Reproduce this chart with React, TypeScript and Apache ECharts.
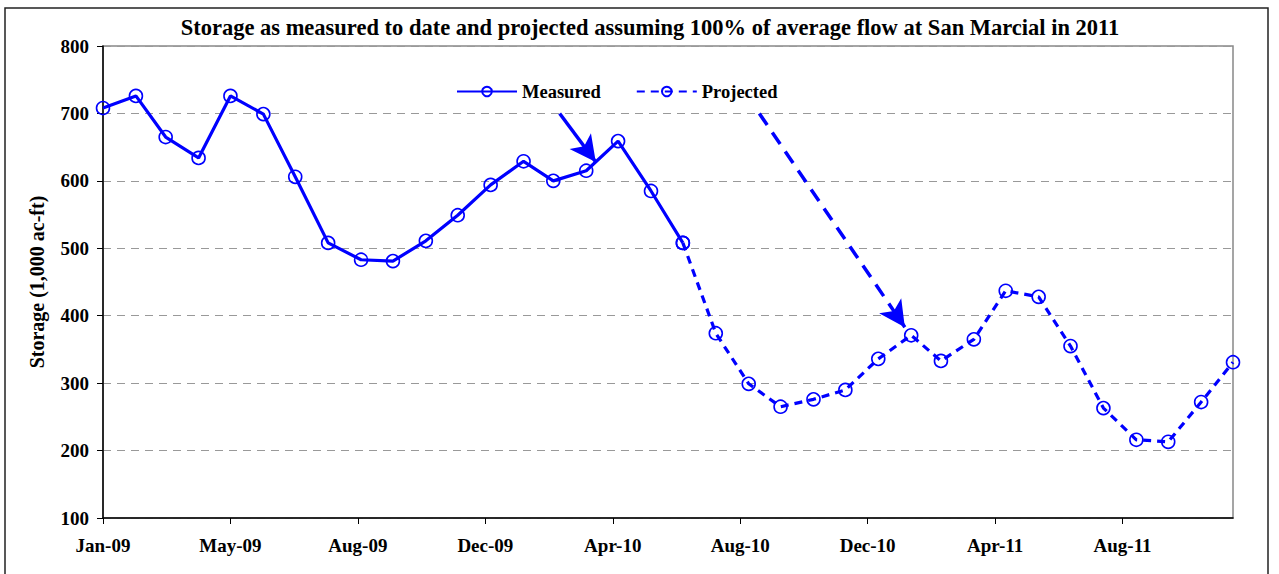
import React, { useEffect, useRef } from "react";
import * as echarts from "echarts";

const measuredMonths = [
  "2009-01", "2009-02", "2009-03", "2009-04", "2009-05", "2009-06", "2009-07", "2009-08", "2009-09", "2009-10",
  "2009-11", "2009-12", "2010-01", "2010-02", "2010-03", "2010-04", "2010-05", "2010-06", "2010-07",
];
const measuredValues = [708, 726, 665, 634, 726, 699, 606, 508, 483, 481, 511, 549, 594, 629, 600, 615, 659, 585, 508];

const projectedMonths = [
  "2010-07", "2010-08", "2010-09", "2010-10", "2010-11", "2010-12", "2011-01", "2011-02", "2011-03", "2011-04",
  "2011-05", "2011-06", "2011-07", "2011-08", "2011-09", "2011-10", "2011-11", "2011-12",
];
const projectedValues = [508, 374, 299, 265, 276, 290, 336, 371, 333, 365, 437, 428, 355, 263, 216, 213, 272, 331];

// x-axis tick dates (every 120 days from 1 Jan 2009)
const tickDays = [0, 120, 240, 360, 480, 600, 720, 840, 960];
const yTicks = [100, 200, 300, 400, 500, 600, 700, 800];

// annotation arrows: [startDate, startValue, endDate, endValue]
const measuredArrow = ["2010-03-07", 700, "2010-04-10", 628];
const projectedArrow = ["2010-09-11", 700, "2011-01-26", 383];

const BASE = Date.UTC(2009, 0, 1);
const DAY = 86400000;
const toDay = (s: string) => {
  const p = s.split("-").map(Number);
  return Math.round((Date.UTC(p[0], p[1] - 1, p[2] || 1) - BASE) / DAY);
};
const MONTHS = ["Jan", "Feb", "Mar", "Apr", "May", "Jun", "Jul", "Aug", "Sep", "Oct", "Nov", "Dec"];
const fmtDay = (d: number) => {
  const dt = new Date(BASE + d * DAY);
  return MONTHS[dt.getUTCMonth()] + "-" + String(dt.getUTCFullYear() % 100).padStart(2, "0");
};

const BLUE = "#0000ff";
const FONT = "'Liberation Serif', 'Times New Roman', serif";

export default function App() {
  const ref = useRef<HTMLDivElement>(null);
  useEffect(() => {
    if (!ref.current) return;
    document.body.style.margin = "0";
    const chart = echarts.init(ref.current, undefined, { renderer: "svg" });
    const mData = measuredMonths.map((m, i) => [toDay(m), measuredValues[i]]);
    const pData = projectedMonths.map((m, i) => [toDay(m), projectedValues[i]]);
    const arrow = (a: any[]) => [
      { coord: [toDay(a[0]), a[1]] },
      { coord: [toDay(a[2]), a[3]] },
    ];
    chart.setOption({
      animation: false,
      textStyle: { fontFamily: FONT },
      title: {
        text: "Storage as measured to date and projected assuming 100% of average flow at San Marcial in 2011",
        left: 645,
        textAlign: "center",
        top: 11,
        textStyle: { fontFamily: FONT, fontWeight: "bold", fontSize: 22.5, color: "#000" },
      },
      legend: {
        left: 451,
        top: 77,
        itemWidth: 60,
        itemHeight: 12,
        itemGap: 35,
        textStyle: { fontFamily: FONT, fontWeight: "bold", fontSize: 18.5, color: "#000" },
        data: ["Measured", "Projected"],
      },
      graphic: [
        {
          type: "rect",
          shape: { x: 5, y: 8, width: 1263, height: 580 },
          style: { fill: "none", stroke: "#222", lineWidth: 1.5 },
          silent: true,
        },
      ],
      grid: {
        left: 103,
        right: 46,
        top: 46,
        bottom: 56,
        show: true,
        borderColor: "#888",
        borderWidth: 1.5,
      },
      xAxis: {
        type: "value",
        min: 0,
        max: toDay("2011-12-01"),
        interval: 120,
        axisLine: { show: true, onZero: false, lineStyle: { color: "#000", width: 1.5 } },
        axisTick: { show: true, customValues: tickDays, length: 6, lineStyle: { color: "#000" } },
        axisLabel: {
          customValues: tickDays,
          formatter: (v: number) => fmtDay(v),
          margin: 18,
          fontFamily: FONT,
          fontWeight: "bold",
          fontSize: 19,
          color: "#000",
        },
        splitLine: { show: false },
      },
      yAxis: {
        type: "value",
        min: 100,
        max: 800,
        interval: 100,
        name: "Storage (1,000 ac-ft)",
        nameLocation: "middle",
        nameGap: 56,
        nameTextStyle: { fontFamily: FONT, fontWeight: "bold", fontSize: 20, color: "#000" },
        axisLine: { show: true, lineStyle: { color: "#000", width: 1.5 } },
        axisTick: { show: true, length: 6, lineStyle: { color: "#000" } },
        axisLabel: {
          formatter: (v: number) => (yTicks.includes(v) ? String(v) : ""),
          margin: 14,
          fontFamily: FONT,
          fontWeight: "bold",
          fontSize: 19,
          color: "#000",
        },
        splitLine: { show: true, lineStyle: { color: "#999", type: [8, 6], width: 1 } },
      },
      series: [
        {
          name: "Measured",
          type: "line",
          data: mData,
          symbol: "circle",
          symbolSize: 13,
          lineStyle: { color: BLUE, width: 3.2 },
          itemStyle: { color: "transparent", borderColor: BLUE, borderWidth: 1.6 },
          markLine: {
            silent: true,
            symbol: ["none", "arrow"],
            symbolSize: [20, 26],
            label: { show: false },
            lineStyle: { color: BLUE, width: 3.5, type: "solid" },
            data: [arrow(measuredArrow)],
          },
          z: 3,
        },
        {
          name: "Projected",
          type: "line",
          data: pData,
          symbol: "circle",
          symbolSize: 13,
          lineStyle: { color: BLUE, width: 3.2, type: [8, 6] },
          itemStyle: { color: "transparent", borderColor: BLUE, borderWidth: 1.6 },
          markLine: {
            silent: true,
            symbol: ["none", "arrow"],
            symbolSize: [20, 26],
            label: { show: false },
            lineStyle: { color: BLUE, width: 3.5, type: [14, 9] },
            data: [arrow(projectedArrow)],
          },
          z: 2,
        },
      ],
    });
    return () => chart.dispose();
  }, []);
  return <div ref={ref} style={{ width: 1279, height: 574 }} />;
}
